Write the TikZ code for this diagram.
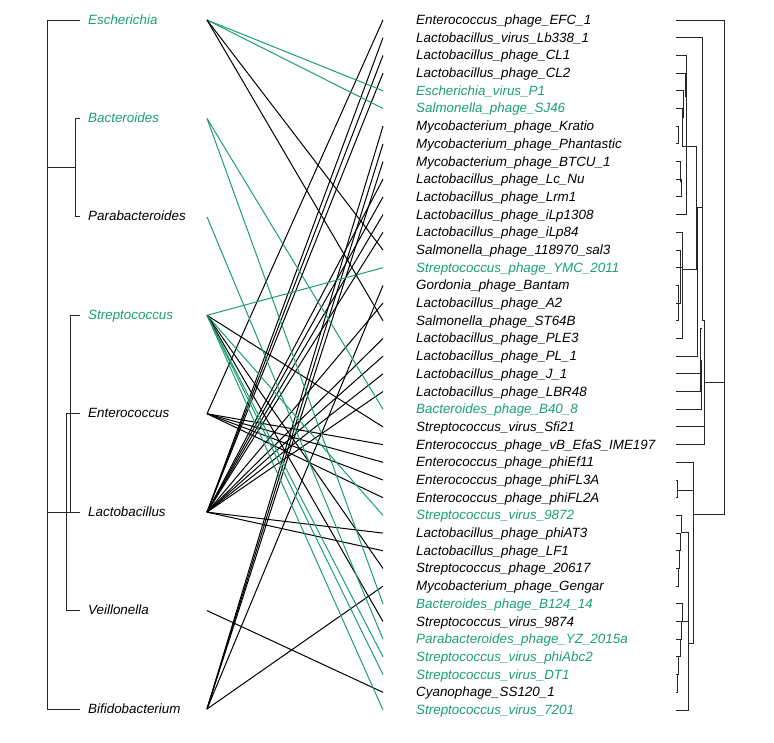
\documentclass[tikz,border=0pt]{standalone}
\usepackage{fontspec}
\setmainfont{Liberation Sans}
\definecolor{hostgreen}{HTML}{1B9E77}
\tikzset{
  taxon/.style={anchor=base west, inner sep=0pt, font=\fontsize{13.4}{15}\selectfont\itshape},
  link/.style={line width=1pt},
  branch/.style={line width=0.9pt, black!85, line cap=rect}
}
\begin{document}
\begin{tikzpicture}[x=1pt,y=-1pt]
\useasboundingbox (0,0) rectangle (774,742);
\def\hstep{98.43}
\def\pstep{17.6923}

% hosts (left)
\foreach \name/\col [count=\i] in {Escherichia/hostgreen,Bacteroides/hostgreen,Parabacteroides/black,
  Streptococcus/hostgreen,Enterococcus/black,Lactobacillus/black,Veillonella/black,Bifidobacterium/black}{
  \coordinate (h\i) at (207,{20+(\i-1)*\hstep});
  \node[taxon,text=\col] (t\i) at (88,{24+(\i-1)*\hstep}) {\name};
}

% phages (right) and links to their hosts
\foreach \name/\col/\host [count=\j] in {
  Enterococcus\_phage\_EFC\_1/black/5, Lactobacillus\_virus\_Lb338\_1/black/6,
  Lactobacillus\_phage\_CL1/black/6, Lactobacillus\_phage\_CL2/black/6,
  Escherichia\_virus\_P1/hostgreen/1, Salmonella\_phage\_SJ46/hostgreen/1,
  Mycobacterium\_phage\_Kratio/black/8, Mycobacterium\_phage\_Phantastic/black/8,
  Mycobacterium\_phage\_BTCU\_1/black/8, Lactobacillus\_phage\_Lc\_Nu/black/6,
  Lactobacillus\_phage\_Lrm1/black/6, Lactobacillus\_phage\_iLp1308/black/6,
  Lactobacillus\_phage\_iLp84/black/6, Salmonella\_phage\_118970\_sal3/black/1,
  Streptococcus\_phage\_YMC\_2011/hostgreen/4, Gordonia\_phage\_Bantam/black/8,
  Lactobacillus\_phage\_A2/black/6, Salmonella\_phage\_ST64B/black/1,
  Lactobacillus\_phage\_PLE3/black/6, Lactobacillus\_phage\_PL\_1/black/6,
  Lactobacillus\_phage\_J\_1/black/6, Lactobacillus\_phage\_LBR48/black/6,
  Bacteroides\_phage\_B40\_8/hostgreen/2, Streptococcus\_virus\_Sfi21/black/4,
  Enterococcus\_phage\_vB\_EfaS\_IME197/black/5, Enterococcus\_phage\_phiEf11/black/5,
  Enterococcus\_phage\_phiFL3A/black/5, Enterococcus\_phage\_phiFL2A/black/5,
  Streptococcus\_virus\_9872/hostgreen/4, Lactobacillus\_phage\_phiAT3/black/6,
  Lactobacillus\_phage\_LF1/black/6, Streptococcus\_phage\_20617/black/4,
  Mycobacterium\_phage\_Gengar/black/8, Bacteroides\_phage\_B124\_14/hostgreen/2,
  Streptococcus\_virus\_9874/black/4, Parabacteroides\_phage\_YZ\_2015a/hostgreen/3,
  Streptococcus\_virus\_phiAbc2/hostgreen/4, Streptococcus\_virus\_DT1/hostgreen/4,
  Cyanophage\_SS120\_1/black/7, Streptococcus\_virus\_7201/hostgreen/4}{
  \coordinate (p\j) at (383,{20+(\j-1)*\pstep});
  \node[taxon,text=\col] (l\j) at (416,{24.5+(\j-1)*\pstep}) {\name};
  \draw[link,draw=\col] (h\host) -- (p\j);
}

% host tree
\draw[branch] (80,20) -- (47,20) -- (47,709) -- (80,709);
\draw[branch] (47,167.6) -- (75,167.6);
\draw[branch] (80,118.4) -- (75,118.4) -- (75,216.8) -- (80,216.8);
\draw[branch] (80,315.3) -- (70,315.3) -- (70,512) -- (80,512);
\draw[branch] (80,413.7) -- (66,413.7) -- (66,610.4) -- (80,610.4);
\draw[branch] (47,512) -- (70,512);

% phage tree, upper part
\draw[branch] (676,20) -- (724,20) -- (724,514) -- (693,514);
\draw[branch] (704,382) -- (724,382);
\draw[branch] (676,444.6) -- (704,444.6) -- (704,320) -- (702,320);
\draw[branch] (676,426.9) -- (704,426.9);
\draw[branch] (676,37.7) -- (702,37.7) -- (702,320);
\draw[branch] (676,409.2) -- (701,409.2) -- (701,360) -- (702,360);
\draw[branch] (676,391.5) -- (700,391.5) -- (700,328) -- (702,328);
\draw[branch] (676,373.9) -- (700,373.9);
\draw[branch] (676,356.2) -- (697,356.2) -- (697,207) -- (702,207);
\draw[branch] (686,146) -- (696,146) -- (696,269) -- (682,269);
\draw[branch] (676,55.4) -- (686,55.4) -- (686,214.6) -- (676,214.6);
\draw[branch] (676,73.1) -- (685,73.1) -- (685,97);
\draw[branch] (676,90.8) -- (683,90.8) -- (683,118);
\draw[branch] (676,108.5) -- (682,108.5) -- (682,146) -- (686,146);
\draw[branch] (676,126.2) -- (678,126.2) -- (678,143.8) -- (676,143.8);
\draw[branch] (676,161.5) -- (680,161.5) -- (680,182);
\draw[branch] (676,179.2) -- (681,179.2) -- (681,196.9) -- (676,196.9);
\draw[branch] (676,232.3) -- (682,232.3) -- (682,338.5) -- (676,338.5);
\draw[branch] (676,250) -- (680,250) -- (680,303.1) -- (676,303.1);
\draw[branch] (676,267.7) -- (682,267.7);
\draw[branch] (676,285.4) -- (678,285.4) -- (678,320.8) -- (676,320.8);

% phage tree, lower part
\draw[branch] (676,462.3) -- (693,462.3) -- (693,643) -- (688,643);
\draw[branch] (676,480) -- (677,480) -- (677,497.7) -- (676,497.7);
\draw[branch] (677,490) -- (693,490);
\draw[branch] (676,515.4) -- (681,515.4) -- (681,532) -- (688,532) -- (688,710) -- (676,710);
\draw[branch] (676,533.1) -- (680,533.1) -- (680,551);
\draw[branch] (676,550.8) -- (679,550.8) -- (679,568.5);
\draw[branch] (676,568.5) -- (678,568.5) -- (678,586.2) -- (676,586.2);
\draw[branch] (676,603.9) -- (682,603.9) -- (682,621.5) -- (676,621.5);
\draw[branch] (681,621.5) -- (688,621.5);
\draw[branch] (676,639.2) -- (681,639.2) -- (681,621.5);
\draw[branch] (676,656.9) -- (680,656.9) -- (680,639.2);
\draw[branch] (676,674.6) -- (678,674.6) -- (678,656.9);
\draw[branch] (676,692.3) -- (677,692.3) -- (677,674.6);
\end{tikzpicture}
\end{document}
